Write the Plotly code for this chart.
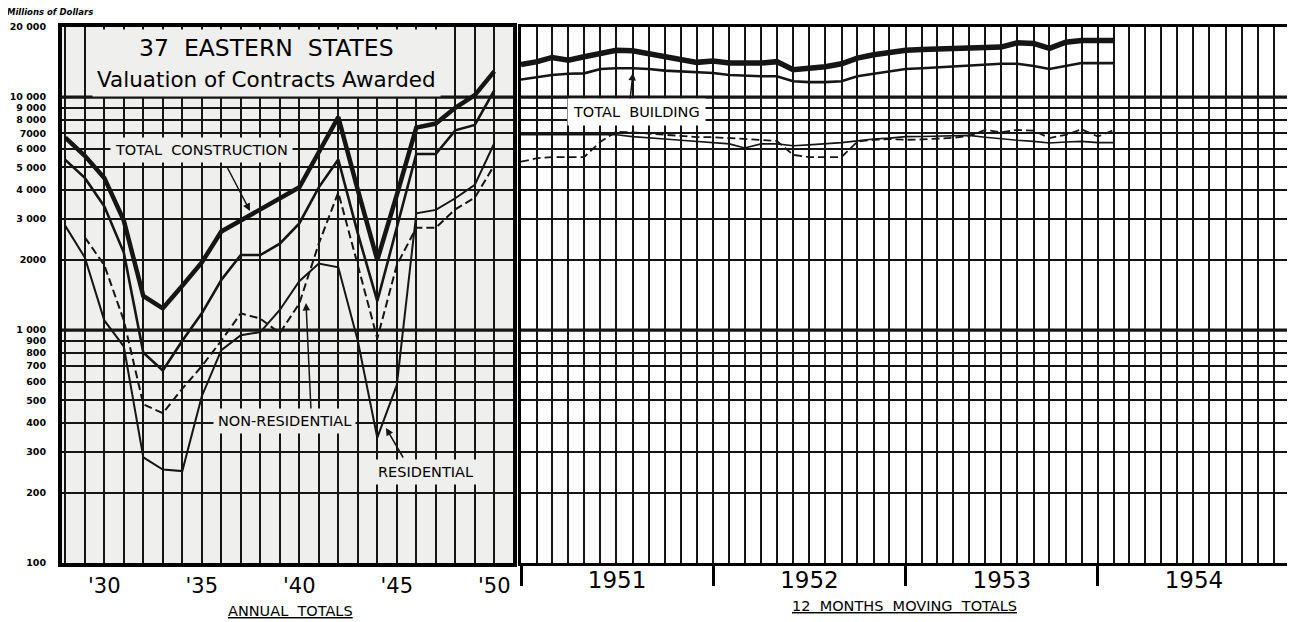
import pandas as pd
import plotly.graph_objects as go
from plotly.subplots import make_subplots

# 年次データ（百万ドル）
years = list(range(1928, 1951))
total_construction = [6700, 5600, 4500, 2950, 1400, 1240, 1550, 1950, 2650, 2950, 3300, 3700,
                      4100, 5800, 8200, 4000, 2000, 3800, 7400, 7700, 9000, 10200, 12900]
total_building = [5380, 4500, 3400, 2150, 800, 670, 900, 1180, 1640, 2100, 2100, 2350,
                  2870, 4100, 5400, 2600, 1330, 2750, 5700, 5700, 7200, 7600, 10700]
non_residential = [None, 2500, 1900, 1100, 480, 440, 560, 700, 900, 1180, 1120, 970,
                   1300, 2350, 3900, 1900, 920, 1900, 2750, 2750, 3300, 3700, 5100]
residential = [2800, 2050, 1100, 850, 284, 252, 248, 520, 820, 950, 980, 1220,
               1620, 1930, 1860, 900, 345, 580, 3170, 3280, 3680, 4200, 6340]

# 12ヶ月移動合計（1951年1月から）
months = pd.date_range("1951-01-01", periods=38, freq="MS")
m_total_construction = [13800, 14200, 14800, 14400, 14900, 15400, 15900, 15800, 15400, 14900,
                        14500, 14100, 14300, 14000, 14000, 14000, 14200, 13100, 13300, 13500,
                        13900, 14700, 15200, 15500, 15900, 16000, 16100, 16100, 16200, 16300,
                        16400, 17100, 17000, 16200, 17200, 17500, 17500, 17500]
m_total_building = [11900, 12200, 12450, 12600, 12650, 13200, 13300, 13300, 13200, 13000,
                    12900, 12750, 12700, 12450, 12350, 12300, 12300, 11700, 11600, 11600,
                    11700, 12300, 12600, 12900, 13200, 13300, 13400, 13500, 13600, 13750,
                    13900, 13900, 13600, 13200, 13600, 14000, 14000, 14000]
m_residential = [6900, 6900, 6900, 6900, 6900, 6900, 6890, 6770, 6670, 6610,
                 6530, 6460, 6400, 6300, 6050, 6300, 6300, 6180, 6240, 6300,
                 6380, 6490, 6610, 6670, 6770, 6780, 6800, 6820, 6850, 6730,
                 6610, 6530, 6460, 6350, 6420, 6460, 6380, 6380]
m_non_residential = [5280, 5470, 5530, 5530, 5530, 6440, 7100, 7060, 6960, 6890,
                     6820, 6730, 6730, 6670, 6610, 6560, 6490, 5650, 5530, 5530,
                     5530, 6440, 6560, 6610, 6560, 6580, 6620, 6690, 6820, 7230,
                     7060, 7230, 7180, 6670, 6890, 7280, 6770, 7230]

# 目盛り
y_tickvals = [100, 200, 300, 400, 500, 600, 700, 800, 900, 1000,
              2000, 3000, 4000, 5000, 6000, 7000, 8000, 9000, 10000, 20000]
y_ticktext = ["100", "200", "300", "400", "500", "600", "700", "800", "900", "1 000",
              "2000", "3 000", "4 000", "5 000", "6 000", "7000", "8 000", "9 000", "10 000", "20 000"]
x_tickvals = [1930, 1935, 1940, 1945, 1950]
x_ticktext = ["'30", "'35", "'40", "'45", "'50"]

INK = "#151515"
PANEL = "#efefed"
FONT = "DejaVu Sans"

# ページ余白(body margin 8px)を差し引いたサイズ
OFF = 8
W, H = 1295 - OFF, 622 - OFF
ML, MT = 62 - OFF, 27 - OFF
MR, MB = W - (1290 - OFF), H - (563 - OFF)


# 画面の画素 -> paper座標
def px(x):
    return (x - 62) / (1290 - 62)


def py(y):
    return (563 - y) / (563 - 27)


fig = make_subplots(rows=1, cols=2, shared_yaxes=False, horizontal_spacing=0)

# 左：年次
fig.add_trace(go.Scatter(x=years, y=total_construction, mode="lines", name="Total construction",
                         line=dict(color=INK, width=4.5)), row=1, col=1)
fig.add_trace(go.Scatter(x=years, y=total_building, mode="lines", name="Total building",
                         line=dict(color=INK, width=2.6)), row=1, col=1)
fig.add_trace(go.Scatter(x=years, y=non_residential, mode="lines", name="Non-residential",
                         line=dict(color=INK, width=2, dash="8px,4px")), row=1, col=1)
fig.add_trace(go.Scatter(x=years, y=residential, mode="lines", name="Residential",
                         line=dict(color=INK, width=2)), row=1, col=1)

# 右：12ヶ月移動合計
fig.add_trace(go.Scatter(x=months, y=m_total_construction, mode="lines", name="Total construction",
                         line=dict(color=INK, width=5.5)), row=1, col=2)
fig.add_trace(go.Scatter(x=months, y=m_total_building, mode="lines", name="Total building",
                         line=dict(color=INK, width=2.6)), row=1, col=2)
fig.add_trace(go.Scatter(x=months, y=m_residential, mode="lines", name="Residential",
                         line=dict(color=INK, width=1.6)), row=1, col=2)
fig.add_trace(go.Scatter(x=months, y=m_non_residential, mode="lines", name="Non-residential",
                         line=dict(color=INK, width=1.8, dash="8px,4px")), row=1, col=2)

grid = dict(showgrid=True, gridcolor=INK, gridwidth=1.6)

fig.update_xaxes(domain=[0, px(513)], range=[1927.83, 1950.96], automargin=False,
                 tickvals=x_tickvals, ticktext=x_ticktext,
                 ticks="outside", ticklen=1, tickcolor="rgba(0,0,0,0)",
                 tickfont=dict(family=FONT, size=21, color="black"),
                 showline=True, linewidth=4, linecolor="black", mirror=True,
                 minor=dict(dtick=1, tick0=1928, **grid), zeroline=False,
                 **grid, row=1, col=1)
fig.update_xaxes(domain=[px(521), 1], type="date", range=["1951-01-01", "1955-01-01"],
                 automargin=False,
                 dtick="M12", tick0="1951-01-01", tickformat="%Y", ticklabelmode="period",
                 ticks="outside", ticklen=20, tickwidth=3, tickcolor="black",
                 ticklabelstandoff=-26,
                 tickfont=dict(family=FONT, size=23, color="black"),
                 showline=True, linewidth=3, linecolor="black", mirror=True,
                 minor=dict(dtick="M1", **grid),
                 **grid, row=1, col=2)

yaxis_common = dict(type="log", range=[2, 4.30103], tickvals=y_tickvals, automargin=False,
                    showline=True, linecolor="black", mirror=True, zeroline=False, **grid)
fig.update_yaxes(ticktext=y_ticktext, ticks="outside", ticklen=10, tickcolor="rgba(0,0,0,0)",
                 tickfont=dict(family=FONT, size=9.5, color="black", weight="bold"),
                 linewidth=4, **yaxis_common, row=1, col=1)
fig.update_yaxes(showticklabels=False, matches="y", linewidth=3, **yaxis_common, row=1, col=2)

# 左パネルの背景（紙の色）
fig.add_shape(type="rect", xref="x domain", yref="y domain", x0=0, x1=1, y0=0, y1=1,
              fillcolor=PANEL, line_width=0, layer="below")

# 1 000 と 10 000 の太い罫線
for v in (1000, 10000):
    for xr in ("x domain", "x2 domain"):
        fig.add_shape(type="line", xref=xr, yref="y", x0=0, x1=1, y0=v, y1=v,
                      line=dict(color=INK, width=3.2), layer="below")

label_font = dict(family=FONT, size=14.5, color="black")
annotations = [
    dict(x=px(266), y=py(63),
         text="37  EASTERN  STATES<br><span style='font-size:21.5px'>Valuation of Contracts Awarded</span>",
         font=dict(family=FONT, size=23.5, color="black"), bgcolor=PANEL, borderpad=4, showarrow=False),
    dict(x=px(201), y=py(150), text="TOTAL  CONSTRUCTION", font=label_font,
         bgcolor=PANEL, borderpad=4, showarrow=False),
    dict(x=px(284), y=py(421), text="NON-RESIDENTIAL", font=label_font,
         bgcolor=PANEL, borderpad=4, showarrow=False),
    dict(x=px(425), y=py(472), text="RESIDENTIAL", font=label_font,
         bgcolor=PANEL, borderpad=4, showarrow=False),
    dict(x=px(636), y=py(112), text="TOTAL  BUILDING", font=label_font,
         bgcolor="white", borderpad=5, showarrow=False),
    # 矢印
    dict(x=px(250), y=py(211), ax=226 - 250, ay=165 - 211, text="", showarrow=True,
         arrowhead=2, arrowsize=1, arrowwidth=1.5, arrowcolor=INK),
    dict(x=px(306), y=py(303), ax=311 - 306, ay=410 - 303, text="", showarrow=True,
         arrowhead=2, arrowsize=1, arrowwidth=1.5, arrowcolor=INK),
    dict(x=px(386), y=py(428), ax=404 - 386, ay=459 - 428, text="", showarrow=True,
         arrowhead=2, arrowsize=1, arrowwidth=1.5, arrowcolor=INK),
    dict(x=px(633), y=py(73), ax=630 - 633, ay=100 - 73, text="", showarrow=True,
         arrowhead=2, arrowsize=1, arrowwidth=1.5, arrowcolor=INK),
    # 軸見出し
    dict(x=px(5), y=py(12), xanchor="left", text="<b><i>Millions of Dollars</i></b>",
         font=dict(family=FONT, size=8.5, color="black"), showarrow=False),
    dict(x=px(290), y=py(611), text="<span style='text-decoration:underline'>ANNUAL  TOTALS</span>",
         font=dict(family=FONT, size=14.5, color="black"), showarrow=False),
    dict(x=px(904), y=py(606), text="<span style='text-decoration:underline'>12  MONTHS  MOVING  TOTALS</span>",
         font=dict(family=FONT, size=14.5, color="black"), showarrow=False),
]
for a in annotations:
    a.setdefault("xref", "paper")
    a.setdefault("yref", "paper")
    a.setdefault("xanchor", "center")
    a.setdefault("yanchor", "middle")
    fig.add_annotation(**a)

fig.update_layout(
    width=W, height=H,
    margin=dict(l=ML, r=MR, t=MT, b=MB),
    paper_bgcolor="white", plot_bgcolor="white",
    showlegend=False,
    font=dict(family=FONT, color="black"),
)

fig.write_html("out.html")
